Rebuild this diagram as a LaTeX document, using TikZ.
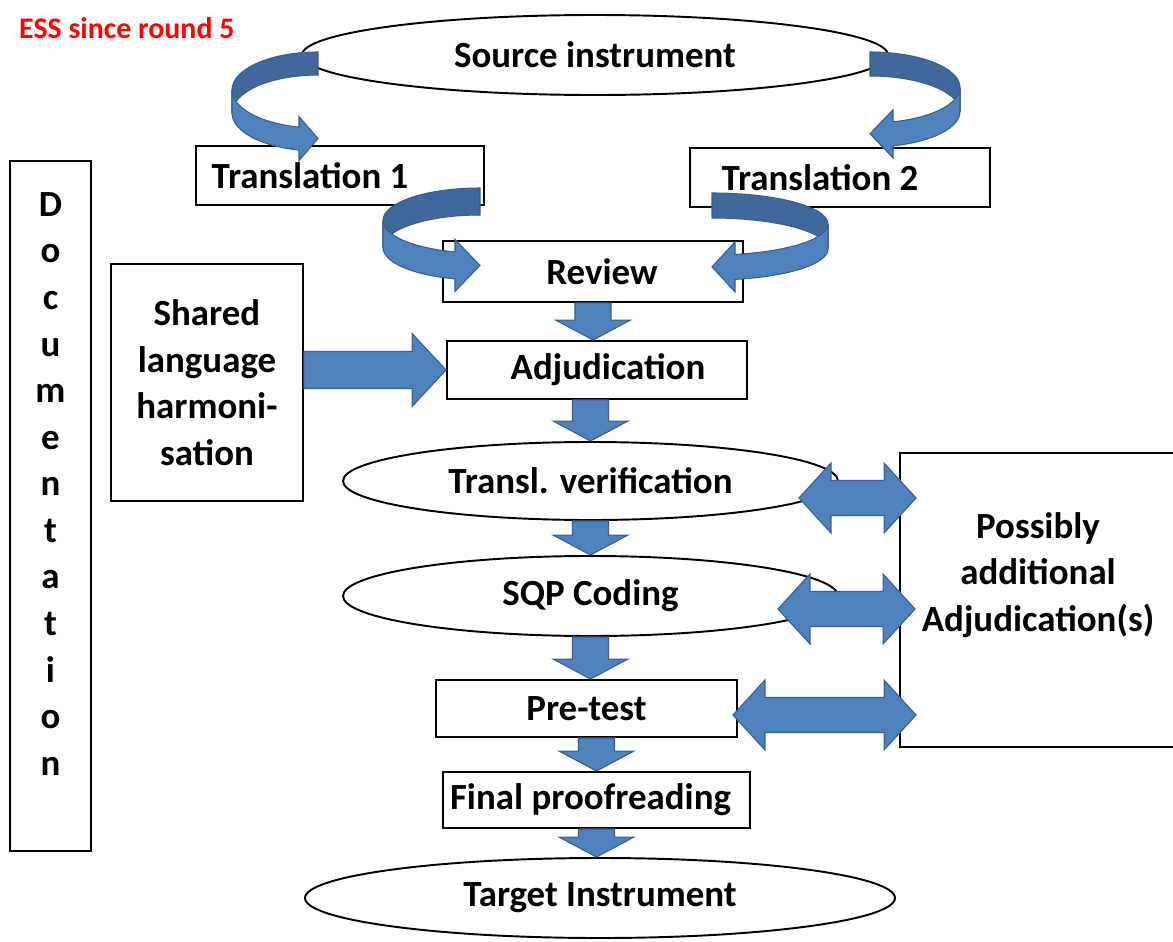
\documentclass[tikz,border=0pt]{standalone}
\usepackage{fontspec}
\setmainfont{Carlito}
\usetikzlibrary{shapes.geometric, positioning, calc}

\definecolor{arrowblue}{HTML}{4F81BD}
\definecolor{arrowdark}{HTML}{41689C}
\definecolor{arrowedge}{HTML}{385D8A}

\newcommand{\boxfont}{\fontsize{21}{26.5}\selectfont\bfseries}

\tikzset{
    stepbox/.style={rectangle, draw, line width=1.1pt, fill=white, inner sep=0pt, font=\boxfont}, % plain boxes
    oval/.style={ellipse, draw, line width=1.1pt, fill=white, inner sep=0pt, font=\boxfont}, % instruments
    fatarrow/.style={fill=arrowblue, draw=arrowedge, line width=0.6pt},
    coilback/.style={fill=arrowdark, draw=arrowedge, line width=0.6pt},
    coilfront/.style={fill=arrowblue, draw=arrowedge, line width=0.6pt},
}

% block arrow pointing down, from #1 to #2
\newcommand{\downblk}[2]{%
    \filldraw[fatarrow] let \p1=#1, \p2=#2 in
        (\x1-3.6mm,\y1) -- (\x1+3.6mm,\y1) -- (\x1+3.6mm,\y2+4mm) -- (\x1+7.5mm,\y2+4mm)
        -- (\x1,\y2) -- (\x1-7.5mm,\y2+4mm) -- (\x1-3.6mm,\y2+4mm) -- cycle;}
% block arrow pointing right, from #1 to #2
\newcommand{\rightblk}[2]{%
    \filldraw[fatarrow] let \p1=#1, \p2=#2 in
        (\x1,\y1+3.7mm) -- (\x2-6.8mm,\y1+3.7mm) -- (\x2-6.8mm,\y1+7.3mm) -- (\x2,\y1)
        -- (\x2-6.8mm,\y1-7.3mm) -- (\x2-6.8mm,\y1-3.7mm) -- (\x1,\y1-3.7mm) -- cycle;}
% block arrow with two heads, from #1 (left) to #2 (right)
\newcommand{\dblblk}[2]{%
    \filldraw[fatarrow] let \p1=#1, \p2=#2 in
        (\x1,\y1) -- (\x1+6.4mm,\y1+7mm) -- (\x1+6.4mm,\y1+3.5mm) -- (\x2-6.4mm,\y1+3.5mm)
        -- (\x2-6.4mm,\y1+7mm) -- (\x2,\y1) -- (\x2-6.4mm,\y1-7mm) -- (\x2-6.4mm,\y1-3.5mm)
        -- (\x1+6.4mm,\y1-3.5mm) -- (\x1+6.4mm,\y1-7mm) -- cycle;}
% curled ribbon arrow: x, y, x radius, y radius, thickness, head length, head half width, side
\newcommand{\coilarrow}[8]{%
    \begin{scope}[shift={(#1,-#2)}, xscale=#8]
        \pgfmathsetmacro{\ang}{180+acos(#6/#3)}
        \pgfmathsetmacro{\yend}{#4*sin(\ang)}
        \pgfmathsetmacro{\yc}{\yend-#5/2}
        \filldraw[coilback] (0,#4) arc[start angle=90, end angle=180, x radius=#3, y radius=#4]
            -- (-#3,-#5) arc[start angle=180, end angle=90, x radius=#3, y radius=#4] -- cycle;
        \filldraw[coilfront] (-#3,0) arc[start angle=180, end angle=\ang, x radius=#3, y radius=#4]
            -- (-#6,\yc+#7) -- (0,\yc) -- (-#6,\yc-#7) -- (-#6,\yend-#5)
            arc[start angle=\ang, end angle=180, x radius=#3, y radius=#4] -- cycle;
    \end{scope}}

\begin{document}
\begin{tikzpicture}[x=0.2mm, y=0.2mm]
        \useasboundingbox (0,0) rectangle (1173,-942);

        % Nodes
        \node[anchor=west, text=red, font=\fontsize{17}{20}\selectfont\bfseries] (ess) at (13,-28) {ESS since round 5};

        \node[oval, minimum width=117.2mm, minimum height=16mm] (src) at (595,-55) {Source instrument};
        \node[stepbox, minimum width=57.6mm, minimum height=11.8mm] (tr1) at (340,-175.5) {Translation 1\hspace{12mm}\mbox{}};
        \node[stepbox, minimum width=60mm, minimum height=11.8mm] (tr2) at (840,-177.5) {Translation 2\hspace{8mm}\mbox{}};
        \node[stepbox, minimum width=60mm, minimum height=12.2mm] (rev) at (593,-271.5) {\mbox{}\hspace{3.6mm}Review};
        \node[stepbox, minimum width=60mm, minimum height=11.6mm] (adj) at (597,-370) {\mbox{}\hspace{4.4mm}Adjudication};
        \node[stepbox, minimum width=38.4mm, minimum height=47.4mm, align=center] (shr) at (207,-382.5) {Shared\\language\\harmoni-\\sation};
        \node[stepbox, minimum width=16.2mm, minimum height=138mm] (doc) at (50.5,-506) {};
        \node[font=\boxfont, align=center, inner sep=0pt, below=6.4mm of doc.north] (doctxt) {D\\o\\c\\u\\m\\e\\n\\t\\a\\t\\i\\o\\n};
        \node[oval, minimum width=99mm, minimum height=15.6mm] (tv) at (590.5,-481) {Transl. verification};
        \node[oval, minimum width=99mm, minimum height=16mm] (sqp) at (590.5,-596) {SQP Coding};
        \node[stepbox, minimum width=60.2mm, minimum height=11.4mm] (pre) at (586.5,-708.5) {Pre-test};
        \node[stepbox, minimum width=61.4mm, minimum height=11.2mm] (fin) at (596.5,-800) {Final proofreading\hspace{2.4mm}\mbox{}};
        \node[oval, minimum width=118mm, minimum height=16mm] (tgt) at (600,-898) {Target Instrument};
        \node[stepbox, minimum width=55.2mm, minimum height=58.8mm] (poss) at (1038,-600) {};
        \node[font=\boxfont, align=center, inner sep=0pt] (posstxt) at ([yshift=5mm]poss.center) {Possibly\\additional\\Adjudication(s)};

        % Curled arrows
        \coilarrow{318}{90}{86}{38}{23}{19}{22}{1}
        \coilarrow{870}{87.5}{90}{35.5}{24}{23}{24}{-1}
        \coilarrow{480}{220.5}{97}{32.5}{27}{25}{26}{1}
        \coilarrow{712}{224}{116}{31}{25}{23}{25}{-1}

        % Block arrows
        \downblk{(rev.south)}{(adj.north)}
        \downblk{(adj.south -| tv.north)}{(tv.north)}
        \downblk{(tv.south)}{(sqp.north)}
        \downblk{(sqp.south)}{(pre.north -| sqp.south)}
        \downblk{(pre.south -| fin.north)}{(fin.north)}
        \downblk{(fin.south)}{(tgt.north)}
        \rightblk{(shr.east |- adj.west)}{(adj.west)}
        \dblblk{($(tv.east)+(-40,-17)$)}{($(tv.east -| poss.west)+(17,-17)$)}
        \dblblk{($(sqp.east)+(-61,-13)$)}{($(sqp.east -| poss.west)+(16,-13)$)}
        \dblblk{($(pre.east)+(-5,-6.5)$)}{($(pre.east -| poss.west)+(17,-6.5)$)}
    \end{tikzpicture}
\end{document}
